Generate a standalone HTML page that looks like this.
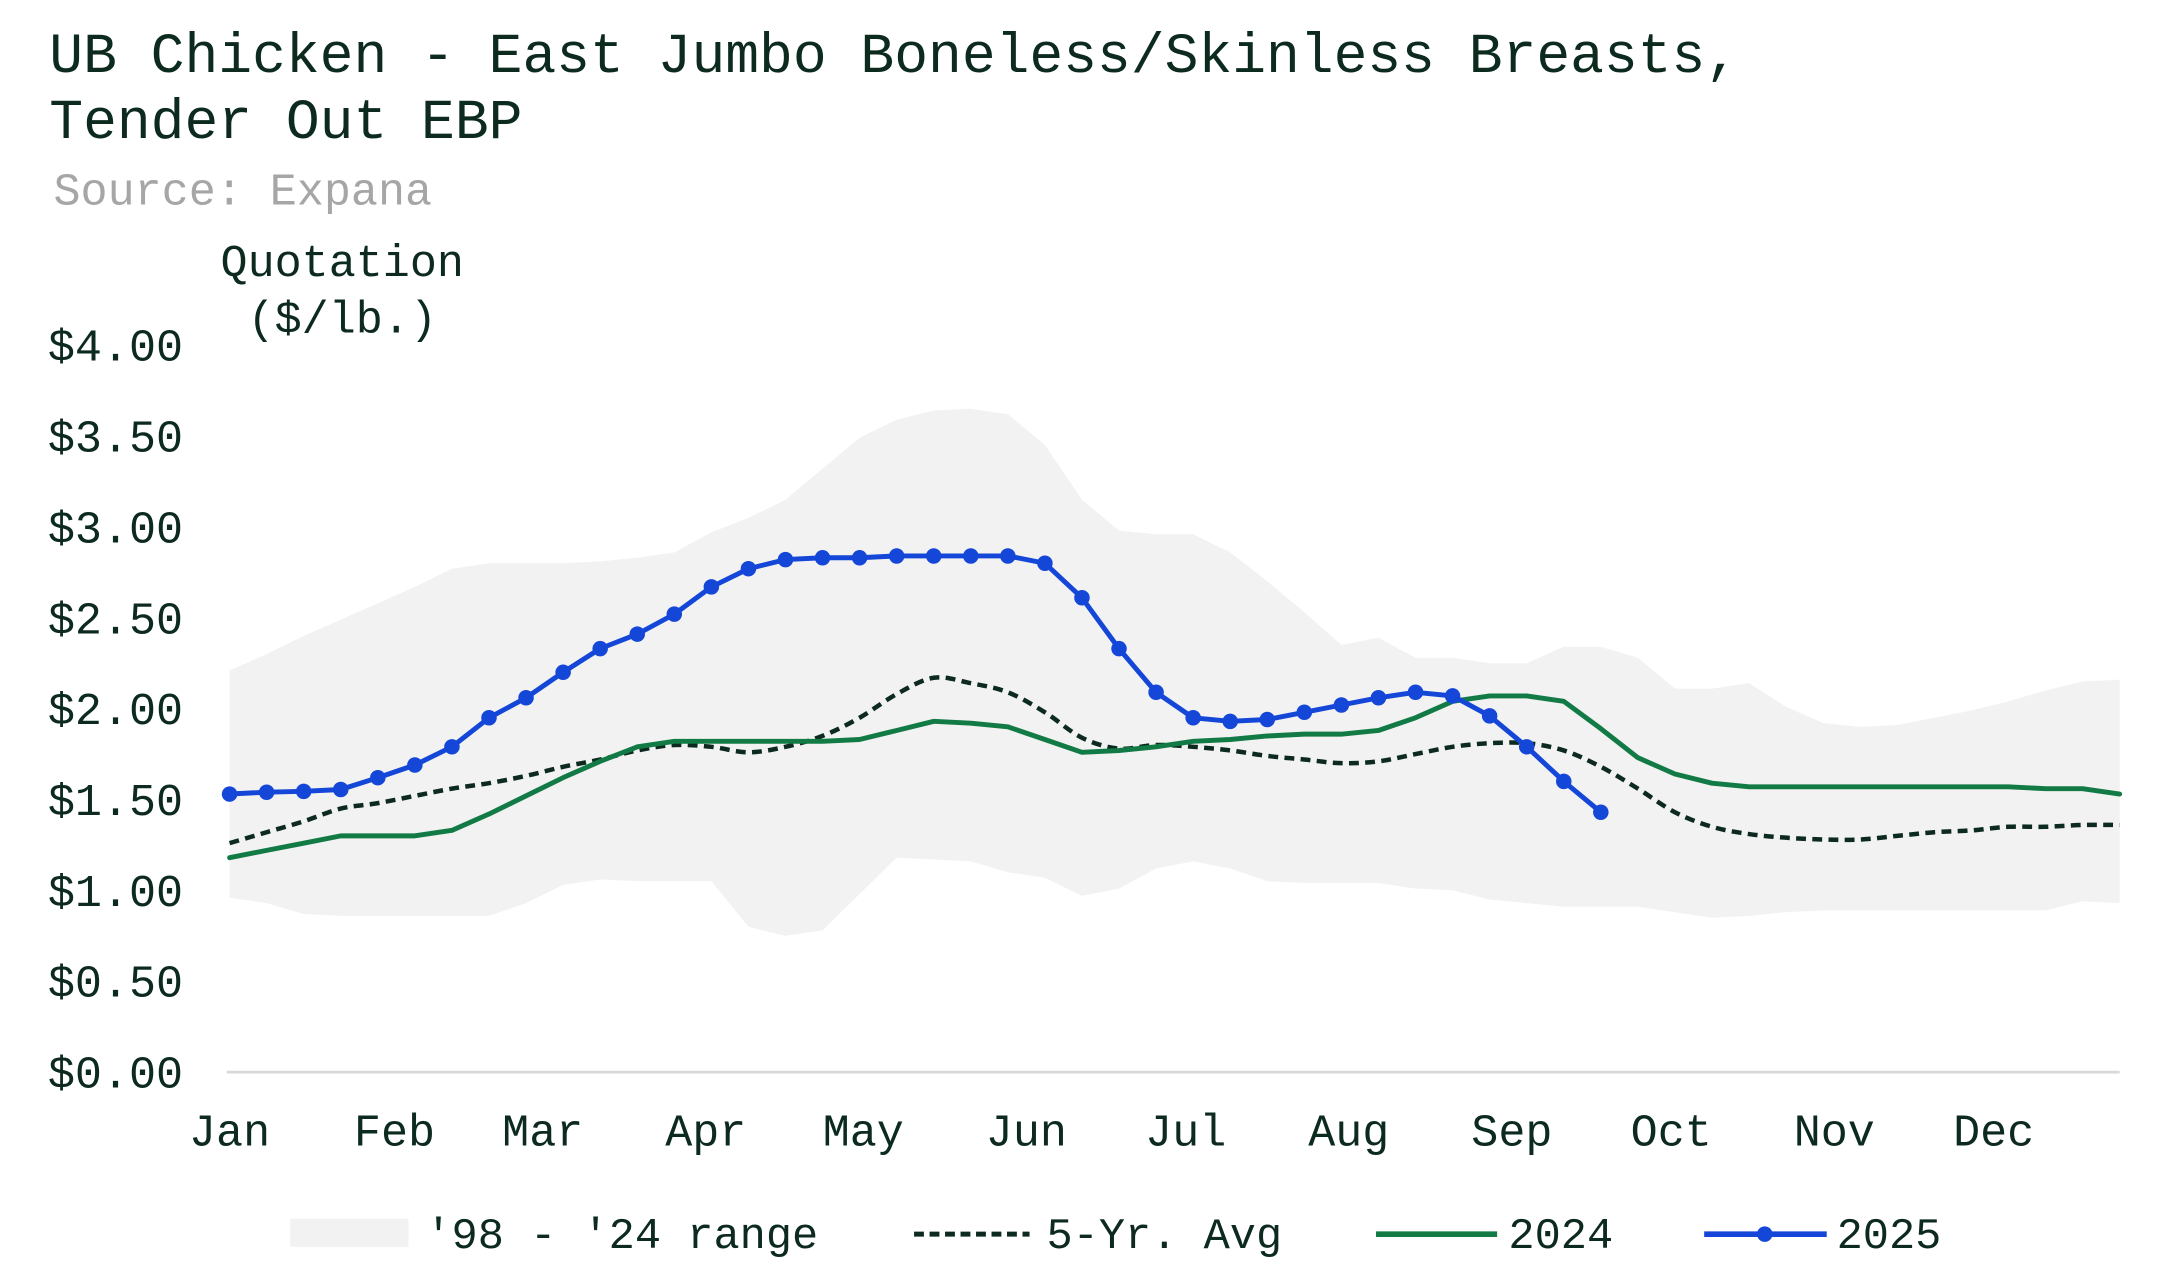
<!DOCTYPE html>
<html><head><meta charset="utf-8">
<style>
html,body{margin:0;padding:0;background:#fff;}
svg{display:block;}
text{font-family:"Liberation Mono",monospace;fill:#0d2a1f;}
</style></head>
<body>
<svg id="chart" width="2176" height="1275" viewBox="0 0 1545 905" preserveAspectRatio="none" xmlns="http://www.w3.org/2000/svg">
<text x="35" y="51" font-size="40">UB Chicken - East Jumbo Boneless/Skinless Breasts,</text>
<text x="35" y="98" font-size="40">Tender Out EBP</text>
<text x="38" y="145" font-size="32" style="fill:#a6a6a6">Source: Expana</text>
<text x="243" y="196" font-size="32" text-anchor="middle">Quotation</text>
<text x="243" y="236" font-size="32" text-anchor="middle">($/lb.)</text>
<g id="range"></g>
<g id="axis"></g>
<g id="series"></g>
<g id="legend">
  <rect x="206" y="865" width="84" height="20" fill="#f2f2f2"/>
  <text x="302" y="886" font-size="31">'98 - '24 range</text>
  <line x1="649" y1="876" x2="731" y2="876" stroke="#0d2a1f" stroke-width="3.5" stroke-dasharray="7,4"/>
  <text x="743" y="886" font-size="31">5-Yr. Avg</text>
  <line x1="977" y1="876" x2="1063" y2="876" stroke="#127a45" stroke-width="4"/>
  <text x="1071" y="886" font-size="31">2024</text>
  <line x1="1210" y1="876" x2="1297" y2="876" stroke="#1446d8" stroke-width="4"/>
  <circle cx="1253" cy="876" r="5.5" fill="#1446d8"/>
  <text x="1304" y="886" font-size="31">2025</text>
</g>
</svg>
<script>
const yTicks = [0, 0.5, 1, 1.5, 2, 2.5, 3, 3.5, 4];
const yTickLabels = ["$0.00","$0.50","$1.00","$1.50","$2.00","$2.50","$3.00","$3.50","$4.00"];
const monthLabels = ["Jan","Feb","Mar","Apr","May","Jun","Jul","Aug","Sep","Oct","Nov","Dec"];
const monthStartWeek = [0, 4.45, 8.45, 12.85, 17.1, 21.5, 25.8, 30.2, 34.6, 38.9, 43.3, 47.6];
const rangeHigh = [2.21,2.30,2.40,2.49,2.58,2.67,2.77,2.80,2.80,2.80,2.81,2.83,2.86,2.97,3.05,3.15,3.32,3.49,3.59,3.64,3.65,3.62,3.45,3.15,2.98,2.96,2.96,2.86,2.70,2.53,2.35,2.39,2.28,2.28,2.25,2.25,2.34,2.34,2.28,2.11,2.11,2.14,2.01,1.92,1.90,1.91,1.95,1.99,2.04,2.10,2.15,2.16];
const rangeLow = [0.96,0.93,0.87,0.86,0.86,0.86,0.86,0.86,0.93,1.03,1.06,1.05,1.05,1.05,0.80,0.75,0.78,0.98,1.18,1.17,1.16,1.10,1.07,0.97,1.01,1.12,1.16,1.12,1.05,1.04,1.04,1.04,1.01,1.00,0.95,0.93,0.91,0.91,0.91,0.88,0.85,0.86,0.88,0.89,0.89,0.89,0.89,0.89,0.89,0.89,0.94,0.93];
const avg5 = [1.26,1.32,1.38,1.45,1.48,1.52,1.56,1.59,1.63,1.68,1.72,1.77,1.80,1.79,1.76,1.79,1.85,1.95,2.08,2.17,2.14,2.09,1.98,1.84,1.78,1.80,1.79,1.77,1.74,1.72,1.70,1.71,1.75,1.79,1.81,1.81,1.77,1.68,1.56,1.43,1.35,1.31,1.29,1.28,1.28,1.30,1.32,1.33,1.35,1.35,1.36,1.36];
const y2024 = [1.18,1.22,1.26,1.30,1.30,1.30,1.33,1.42,1.52,1.62,1.71,1.79,1.82,1.82,1.82,1.82,1.82,1.83,1.88,1.93,1.92,1.90,1.83,1.76,1.77,1.79,1.82,1.83,1.85,1.86,1.86,1.88,1.95,2.04,2.07,2.07,2.04,1.89,1.73,1.64,1.59,1.57,1.57,1.57,1.57,1.57,1.57,1.57,1.57,1.56,1.56,1.53];
const y2025 = [1.53,1.54,1.545,1.555,1.62,1.69,1.79,1.95,2.06,2.20,2.33,2.41,2.52,2.67,2.77,2.82,2.83,2.83,2.84,2.84,2.84,2.84,2.80,2.61,2.33,2.09,1.95,1.93,1.94,1.98,2.02,2.06,2.09,2.07,1.96,1.79,1.60,1.43];

const NS = "http://www.w3.org/2000/svg";
const X0 = 163, X1 = 1505, NW = 52;
function xs(i){ return X0 + i*(X1-X0)/(NW-1); }
function ys(v){ return 761 - v*129; }
function mk(tag, attrs, parent){ const e=document.createElementNS(NS,tag); for(const k in attrs) e.setAttribute(k,attrs[k]); parent.appendChild(e); return e; }

const axis = document.getElementById('axis');
const series = document.getElementById('series');
const range = document.getElementById('range');

let d = "M" + rangeHigh.map((v,i)=>xs(i).toFixed(1)+","+ys(v).toFixed(1)).join(" L");
for(let i=rangeLow.length-1;i>=0;i--) d += " L"+xs(i).toFixed(1)+","+ys(rangeLow[i]).toFixed(1);
d += " Z";
const band = mk('path',{d:d,fill:'#f2f2f2'},range);



const base = mk('line',{x1:161,y1:ys(0),x2:X1,y2:ys(0),stroke:'#d9d9d9','stroke-width':2},axis);



yTicks.forEach((v,i)=>{
  const t = mk('text',{x:130,y:ys(v)+11,'font-size':32,'text-anchor':'end'},axis);
  t.textContent = yTickLabels[i];
  
  
});
monthLabels.forEach((m,i)=>{
  const t = mk('text',{x:xs(monthStartWeek[i]),y:813,'font-size':32,'text-anchor':'middle'},axis);
  t.textContent = m;
  
  
});

function smooth(arr){
  const p = arr.map((v,i)=>[xs(i),ys(v)]);
  let s = "M"+p[0][0]+","+p[0][1];
  for(let i=0;i<p.length-1;i++){
    const p0=p[Math.max(0,i-1)],p1=p[i],p2=p[i+1],p3=p[Math.min(p.length-1,i+2)];
    const c1=[p1[0]+(p2[0]-p0[0])/6,p1[1]+(p2[1]-p0[1])/6];
    const c2=[p2[0]-(p3[0]-p1[0])/6,p2[1]-(p3[1]-p1[1])/6];
    s+=" C"+c1.join(",")+" "+c2.join(",")+" "+p2.join(",");
  }
  return s;
}
function poly(arr){ return "M"+arr.map((v,i)=>xs(i).toFixed(1)+","+ys(v).toFixed(1)).join(" L"); }

const avgLine = mk('path',{d:smooth(avg5),fill:'none',stroke:'#0d2a1f','stroke-width':3.2,'stroke-dasharray':'7,4.5'},series);



const l24 = mk('path',{d:poly(y2024),fill:'none',stroke:'#127a45','stroke-width':3.5,'stroke-linejoin':'round','stroke-linecap':'round'},series);



const l25 = mk('path',{d:poly(y2025),fill:'none',stroke:'#1446d8','stroke-width':3.5,'stroke-linejoin':'round'},series);


y2025.forEach((v,i)=>{
  const c = mk('circle',{cx:xs(i),cy:ys(v),r:5.5,fill:'#1446d8'},series);
  
  
});
</script>
</body></html>
